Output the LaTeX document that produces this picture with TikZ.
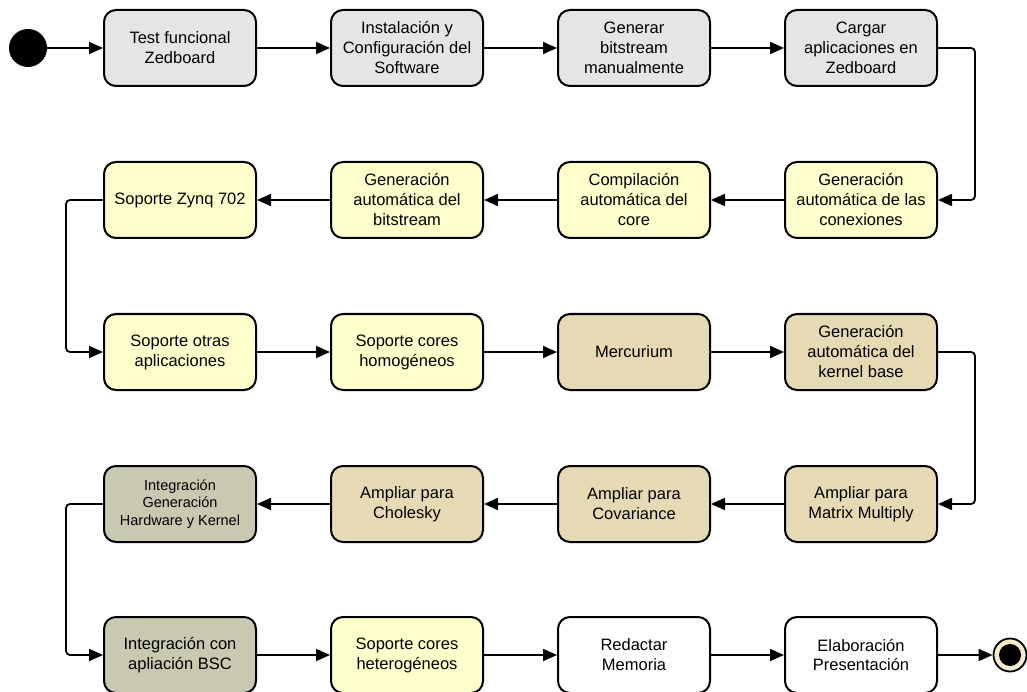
\documentclass[tikz,border=0pt]{standalone}
\usepackage{fontspec}
\setmainfont{Liberation Sans}
\usetikzlibrary{arrows.meta}
\definecolor{boxgray}{HTML}{E5E5E5}
\definecolor{boxyellow}{HTML}{FFFFCC}
\definecolor{boxtan}{HTML}{E6DAB5}
\definecolor{boxolive}{HTML}{C9C9B2}
\definecolor{endring}{HTML}{F5EBCB}
\begin{document}
\begin{tikzpicture}[x=1pt,y=-1pt,
  task/.style={draw=black, line width=2pt, rounded corners=12pt,
    minimum width=152pt, minimum height=76pt, align=center,
    font=\fontsize{16.5}{20}\selectfont, inner sep=2pt},
  gray/.style={task, fill=boxgray},
  yel/.style={task, fill=boxyellow},
  tan/.style={task, fill=boxtan},
  olive/.style={task, fill=boxolive},
  plain/.style={task, fill=white},
  flow/.style={draw=black, line width=1.8pt, rounded corners=4pt,
    -{Triangle[length=14pt,width=12pt]}}]
\useasboundingbox (0,0) rectangle (1027,692);

% start and end states
\node[circle, fill=black, minimum size=38pt, inner sep=0pt] (start) at (28,48) {};
\node[circle, draw=black, line width=1.8pt, fill=endring, minimum size=33pt, inner sep=0pt] (end) at (1010,655) {};
\fill[black] (end.center) circle (11pt);

% row 1
\node[gray] (a1) at (180,48) {Test funcional\\Zedboard};
\node[gray] (a2) at (407,48) {Instalación y\\Configuración del\\Software};
\node[gray] (a3) at (634,48) {Generar\\bitstream\\manualmente};
\node[gray] (a4) at (861,48) {Cargar\\aplicaciones en\\Zedboard};

% row 2
\node[yel] (b4) at (861,200) {Generación\\automática de las\\conexiones};
\node[yel] (b3) at (634,200) {Compilación\\automática del\\core};
\node[yel] (b2) at (407,200) {Generación\\automática del\\bitstream};
\node[yel] (b1) at (180,200) {Soporte Zynq 702};

% row 3
\node[yel] (c1) at (180,352) {Soporte otras\\aplicaciones};
\node[yel] (c2) at (407,352) {Soporte cores\\homogéneos};
\node[tan] (c3) at (634,352) {Mercurium};
\node[tan] (c4) at (861,352) {Generación\\automática del\\kernel base};

% row 4
\node[tan] (d4) at (861,504) {Ampliar para\\Matrix Multiply};
\node[tan] (d3) at (634,504) {Ampliar para\\Covariance};
\node[tan] (d2) at (407,504) {Ampliar para\\Cholesky};
\node[olive, font=\fontsize{14.5}{17.5}\selectfont] (d1) at (180,504) {Integración\\Generación\\Hardware y Kernel};

% row 5
\node[olive] (e1) at (180,655) {Integración con\\apliación BSC};
\node[yel] (e2) at (407,655) {Soporte cores\\heterogéneos};
\node[plain] (e3) at (634,655) {Redactar\\Memoria};
\node[plain] (e4) at (861,655) {Elaboración\\Presentación};

% connectors
\draw[flow] (start) -- (a1);
\draw[flow] (a1) -- (a2);
\draw[flow] (a2) -- (a3);
\draw[flow] (a3) -- (a4);
\draw[flow] (a4.east) -- ++(37,0) |- (b4.east);
\draw[flow] (b4) -- (b3);
\draw[flow] (b3) -- (b2);
\draw[flow] (b2) -- (b1);
\draw[flow] (b1.west) -- ++(-37,0) |- (c1.west);
\draw[flow] (c1) -- (c2);
\draw[flow] (c2) -- (c3);
\draw[flow] (c3) -- (c4);
\draw[flow] (c4.east) -- ++(37,0) |- (d4.east);
\draw[flow] (d4) -- (d3);
\draw[flow] (d3) -- (d2);
\draw[flow] (d2) -- (d1);
\draw[flow] (d1.west) -- ++(-37,0) |- (e1.west);
\draw[flow] (e1) -- (e2);
\draw[flow] (e2) -- (e3);
\draw[flow] (e3) -- (e4);
\draw[flow] (e4) -- (end);
\end{tikzpicture}
\end{document}
